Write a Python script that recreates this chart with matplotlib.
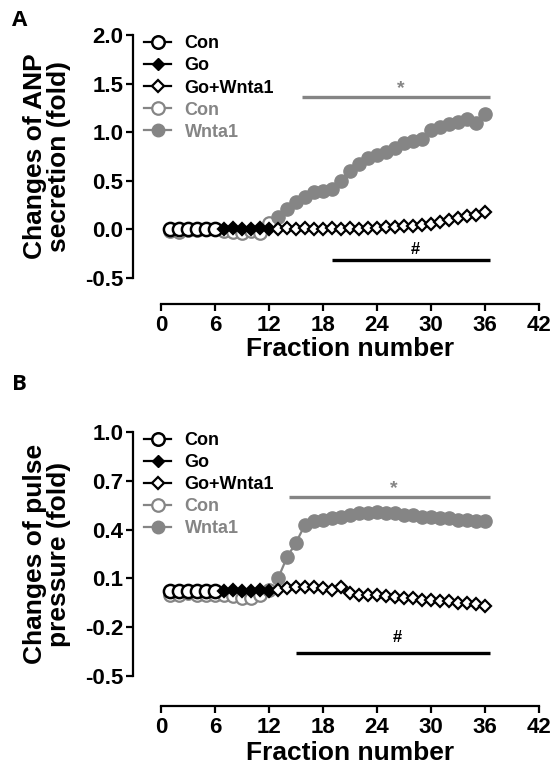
import numpy as np
import matplotlib
matplotlib.use("Agg")
import matplotlib.pyplot as plt
from matplotlib.lines import Line2D

plt.rcParams['font.family'] = ['Liberation Sans', 'DejaVu Sans']
plt.rcParams['font.weight'] = 'bold'
plt.rcParams['axes.unicode_minus'] = False

GRAY = '#858585'

# Panel A - ANP secretion
con_x = np.arange(1, 7)
go_x = np.arange(7, 13)
gw_x = np.arange(13, 37)
gcon_x = np.arange(1, 13)
wnt_x = np.arange(13, 37)

a_con = [0.0, 0.0, 0.0, 0.0, 0.0, 0.0]
a_go = [0.0, 0.01, 0.0, 0.0, 0.01, 0.0]
a_gw = [0.0, 0.01, 0.0, 0.01, 0.0, 0.0, 0.01, 0.0, 0.01, 0.0, 0.01, 0.01,
        0.02, 0.02, 0.03, 0.04, 0.05, 0.06, 0.08, 0.10, 0.12, 0.14, 0.15, 0.18]
a_gcon = [-0.02, -0.03, -0.01, -0.01, 0.0, 0.0, -0.02, -0.03, -0.04, -0.02, -0.04, 0.07]
a_wnt = [0.13, 0.21, 0.28, 0.33, 0.38, 0.40, 0.42, 0.50, 0.60, 0.67, 0.73, 0.77,
         0.80, 0.84, 0.89, 0.91, 0.93, 1.02, 1.05, 1.08, 1.10, 1.14, 1.09, 1.19]

# Panel B - pulse pressure
b_con = [0.02, 0.02, 0.02, 0.02, 0.02, 0.02]
b_go = [0.02, 0.03, 0.02, 0.02, 0.03, 0.02]
b_gw = [0.03, 0.04, 0.05, 0.05, 0.05, 0.04, 0.03, 0.05, 0.01, 0.0, 0.0, -0.005,
        -0.01, -0.015, -0.02, -0.02, -0.03, -0.03, -0.04, -0.04, -0.05, -0.05, -0.06, -0.07]
b_gcon = [0.0, 0.0, 0.01, 0.0, 0.0, 0.0, 0.0, -0.01, -0.02, -0.02, 0.0, 0.03]
b_wnt = [0.10, 0.23, 0.32, 0.43, 0.45, 0.46, 0.47, 0.48, 0.49, 0.50, 0.50, 0.51,
         0.50, 0.50, 0.49, 0.49, 0.48, 0.48, 0.47, 0.47, 0.46, 0.46, 0.45, 0.45]

labels = ['Con', 'Go', 'Go+Wnta1', 'Con', 'Wnta1']
xticks = np.arange(0, 43, 6)

# significance bars: (x start, x end, y)
a_star = (15.7, 36.6, 1.36)
a_hash = (19.0, 36.6, -0.31)
b_star = (14.2, 36.6, 0.60)
b_hash = (15.0, 36.6, -0.36)

fig = plt.figure(figsize=(5.57, 7.76), dpi=100)
W, H = 557, 776


def make_axes(px_top, px_bottom, ylo, yhi, px_ylo):
    # y spine at px 133, x=0 at 161, x=42 at 539
    ax = fig.add_axes([133 / W, 1 - px_bottom / H, (539 - 133) / W, (px_bottom - px_top) / H])
    ppu = (px_ylo - px_top) / (yhi - ylo)
    ax.set_xlim(-28 / 9.0, 42)
    ax.set_ylim(ylo - (px_bottom - px_ylo) / ppu, yhi)
    for s in ['top', 'right']:
        ax.spines[s].set_visible(False)
    ax.spines['left'].set_bounds(ylo, yhi)
    ax.spines['bottom'].set_bounds(0, 42)
    for s in ['left', 'bottom']:
        ax.spines[s].set_linewidth(1.6)
    ax.set_xticks(xticks)
    ax.tick_params(width=1.6, length=5, labelsize=16, direction='out')
    ax.tick_params(axis='x', pad=3)
    ax.tick_params(axis='y', pad=2)
    return ax


def draw(ax, con, go, gw, gcon, wnt):
    ax.plot(gcon_x, gcon, '-o', color=GRAY, mfc='white', mec=GRAY, ms=9, mew=1.6, lw=1.6, clip_on=False)
    ax.plot(wnt_x, wnt, '-o', color=GRAY, mfc=GRAY, mec=GRAY, ms=9.5, lw=1.6, clip_on=False)
    ax.plot(con_x, con, '-o', color='black', mfc='white', mec='black', ms=9.5, mew=1.8, lw=1.6, clip_on=False)
    ax.plot(go_x, go, '-D', color='black', mfc='black', mec='black', ms=6.5, mew=1.6, lw=1.6, clip_on=False)
    ax.plot(gw_x, gw, '-D', color='black', mfc='white', mec='black', ms=6.5, mew=1.6, lw=1.6, clip_on=False)


def legend(ax):
    h = [Line2D([], [], color='black', marker='o', mfc='white', mec='black', ms=9, mew=1.8, lw=1.6),
         Line2D([], [], color='black', marker='D', mfc='black', ms=6.5, lw=1.6),
         Line2D([], [], color='black', marker='D', mfc='white', mec='black', ms=6.5, mew=1.6, lw=1.6),
         Line2D([], [], color=GRAY, marker='o', mfc='white', mec=GRAY, ms=9, mew=1.6, lw=1.6),
         Line2D([], [], color=GRAY, marker='o', mfc=GRAY, mec=GRAY, ms=9, lw=1.6)]
    leg = ax.legend(h, labels, loc='upper left', bbox_to_anchor=(0.005, 1.032), frameon=False,
                    handlelength=1.5, handletextpad=0.75, labelspacing=0.28, borderpad=0,
                    prop={'size': 13, 'weight': 'bold'})
    for t, c in zip(leg.get_texts(), ['black', 'black', 'black', GRAY, GRAY]):
        t.set_color(c)


def sig(ax, bar, sym, color, dy):
    x0, x1, y = bar
    ax.plot([x0, x1], [y, y], color=color, lw=2.4, solid_capstyle='butt')
    ax.text((x0 + x1) / 2 + 0.5, y + dy, sym, color=color, ha='center', va='bottom',
            fontsize=14 if sym == '*' else 12, fontweight='bold')


# Panel A
axA = make_axes(35, 304, -0.5, 2.0, 278)
axA.set_yticks(np.arange(-0.5, 2.01, 0.5))
axA.set_yticklabels(['%.1f' % v for v in np.arange(-0.5, 2.01, 0.5)])
draw(axA, a_con, a_go, a_gw, a_gcon, a_wnt)
legend(axA)
sig(axA, a_star, '*', GRAY, 0.0)
sig(axA, a_hash, '#', 'black', 0.03)
axA.set_ylabel('Changes of ANP\nsecretion (fold)', fontsize=19, fontweight='bold', linespacing=1.0)
axA.set_xlabel('Fraction number', fontsize=19, fontweight='bold')
axA.xaxis.set_label_coords((350 - 133) / 406, -(337 - 304) / 269)
axA.yaxis.set_label_coords(-(133 - 71) / 406, (304 - 156) / 269)

# Panel B
axB = make_axes(432, 706, -0.5, 1.0, 676)
bt = [-0.5, -0.2, 0.1, 0.4, 0.7, 1.0]
axB.set_yticks(bt)
axB.set_yticklabels(['%.1f' % v for v in bt])
draw(axB, b_con, b_go, b_gw, b_gcon, b_wnt)
legend(axB)
sig(axB, b_star, '*', GRAY, 0.0)
sig(axB, b_hash, '#', 'black', 0.05)
axB.set_ylabel('Changes of pulse\npressure (fold)', fontsize=19, fontweight='bold', linespacing=1.0)
axB.set_xlabel('Fraction number', fontsize=19, fontweight='bold')
axB.xaxis.set_label_coords((350 - 133) / 406, -(741 - 706) / 274)
axB.yaxis.set_label_coords(-(133 - 71) / 406, (706 - 554) / 274)

fig.text(12 / W, 1 - 20 / H, 'A', fontsize=16, fontweight='bold', va='center', family='Open Sans')
fig.text(12 / W, 1 - 384 / H, 'B', fontsize=16, fontweight='bold', va='center', family='Open Sans')

fig.savefig('out.png', dpi=100)
